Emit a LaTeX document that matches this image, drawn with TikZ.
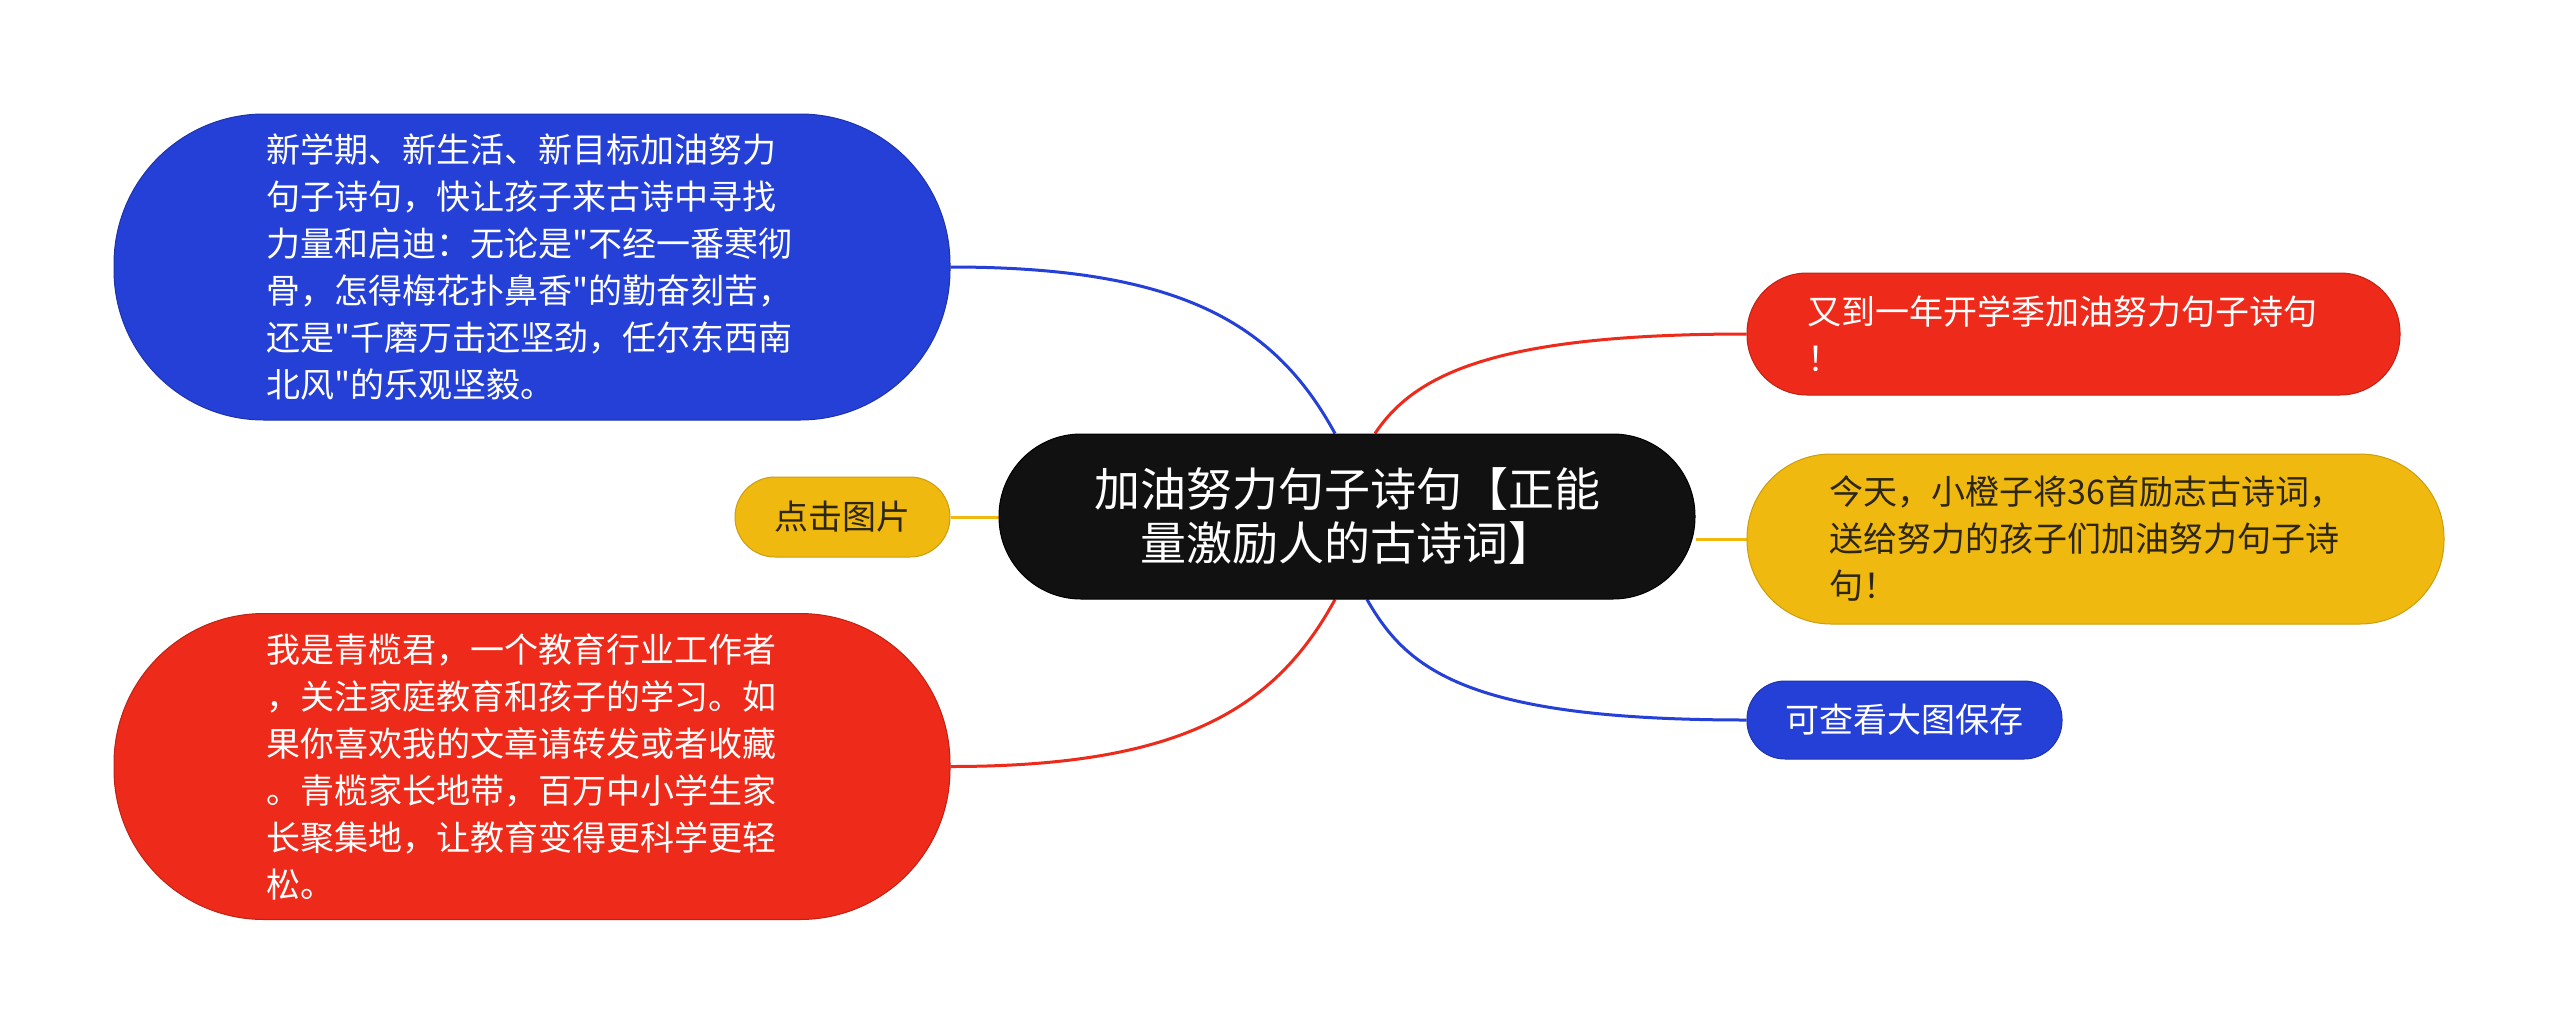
\documentclass[tikz,border=0pt]{standalone}
\usepackage{fontspec}
\setmainfont{Noto Sans CJK SC}
\newfontfamily\cjkfont{Noto Sans CJK SC}
\definecolor{cblue}{RGB}{37,64,214}
\definecolor{cred}{RGB}{238,42,26}
\definecolor{cyellow}{RGB}{240,185,15}
\definecolor{cblack}{RGB}{17,17,17}
\definecolor{cdark}{RGB}{45,38,20}
\pgfdeclarelayer{bg}
\pgfsetlayers{bg,main}
\tikzset{
  box/.style={rectangle, inner sep=0pt, align=left},
  bigbox/.style={box, rounded corners=75pt, minimum width=418pt, minimum height=153pt,
     text width=266pt, text=white, font=\cjkfont\fontsize{17}{23.5}\selectfont},
  centerbox/.style={box, align=center, fill=cblack, draw=black, line width=0.5pt, rounded corners=41pt,
     minimum width=348pt, minimum height=82.5pt, text=white, font=\cjkfont\fontsize{23}{27}\selectfont},
  smallbox/.style={box, align=center, font=\cjkfont\fontsize{17}{23.5}\selectfont},
  conn/.style={line width=1.5pt},
}
\begin{document}
\begin{tikzpicture}[x=0.5pt,y=-0.5pt]
\useasboundingbox (0,0) rectangle (2560,1034);

\node[centerbox] (cn) at (1347,516.5) {加油努力句子诗句【正能\\量激励人的古诗词】};

\node[bigbox, fill=cblue, draw=cblue!80!black, line width=0.5pt] (bb) at (532,267)
 {新学期、新生活、新目标加油努力\\句子诗句，快让孩子来古诗中寻找\\力量和启迪：无论是"不经一番寒彻\\骨，怎得梅花扑鼻香"的勤奋刻苦，\\还是"千磨万击还坚劲，任尔东西南\\北风"的乐观坚毅。};

\node[bigbox, fill=cred, draw=cred!80!black, line width=0.5pt] (rl) at (532,766.5)
 {我是青榄君，一个教育行业工作者\\，关注家庭教育和孩子的学习。如\\果你喜欢我的文章请转发或者收藏\\。青榄家长地带，百万中小学生家\\长聚集地，让教育变得更科学更轻\\松。};

\node[smallbox, fill=cyellow, draw=cyellow!85!black, line width=0.5pt, text=cdark, rounded corners=20pt,
  minimum width=107.5pt, minimum height=40pt] (dj) at (842.5,517) {点击图片};

\node[box, fill=cred, draw=cred!80!black, line width=0.5pt, rounded corners=30pt,
  minimum width=326.5pt, minimum height=61pt, text width=266pt, text=white,
  font=\cjkfont\fontsize{17}{23.5}\selectfont] (rr) at (2073.5,334)
 {又到一年开学季加油努力句子诗句\\！};

\node[box, fill=cyellow, draw=cyellow!85!black, line width=0.5pt, rounded corners=42pt,
  minimum width=348.5pt, minimum height=85pt, text width=266pt, text=cdark,
  font=\cjkfont\fontsize{17}{23.5}\selectfont] (yl) at (2095.5,539)
 {今天，小橙子将36首励志古诗词，\\送给努力的孩子们加油努力句子诗\\句！};

\node[smallbox, fill=cblue, draw=cblue!80!black, line width=0.5pt, text=white, rounded corners=19pt,
  minimum width=157.5pt, minimum height=39pt] (bs) at (1904.5,720) {可查看大图保存};

\begin{pgfonlayer}{bg}
\fill[white] (0,0) rectangle (2560,1034);
\draw[conn, cblue] (bb.east) .. controls +(230,0) and +(-60,-110) .. ([xshift=-6pt]cn.north);
\draw[conn, cred] ([xshift=14pt]cn.north) .. controls +(40,-60) and +(-250,0) .. (rr.west);
\draw[conn, cred] ([xshift=-6pt]cn.south) .. controls +(-60,110) and +(230,0) .. (rl.east);
\draw[conn, cblue] ([xshift=10pt]cn.south) .. controls +(40,70) and +(-280,0) .. (bs.west);
\draw[conn, cyellow] (dj.east) -- (dj.east -| cn.west);
\draw[conn, cyellow] (yl.west -| cn.east) -- (yl.west);
\end{pgfonlayer}
\end{tikzpicture}
\end{document}
